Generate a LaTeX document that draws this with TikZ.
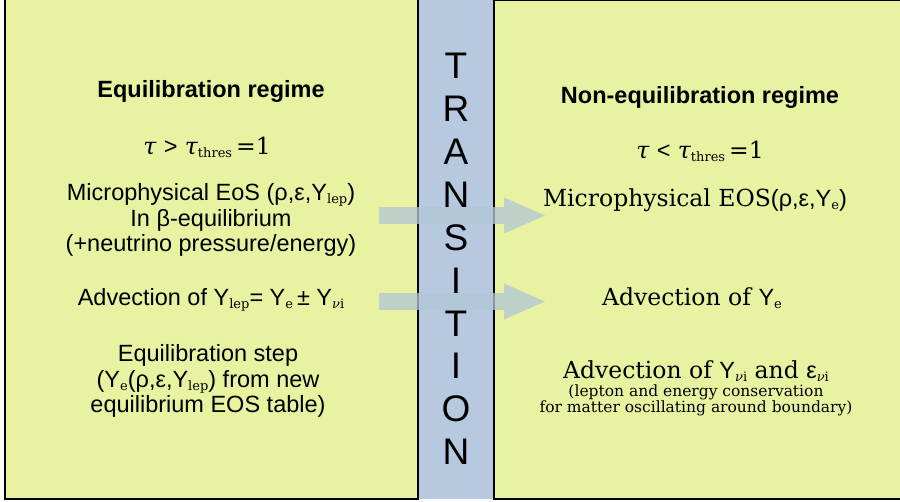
\documentclass[tikz,border=0pt]{standalone}
\usepackage{fontspec}
\setmainfont{Liberation Sans}
\newfontfamily\seriffont{DejaVu Serif}
\usetikzlibrary{arrows.meta, positioning}

\definecolor{regimeyellow}{RGB}{232,242,161}
\definecolor{bandblue}{RGB}{183,201,222}
\definecolor{flowblue}{RGB}{176,197,214}

\newcommand{\lowtxt}[1]{\raisebox{-0.25ex}{\seriffont\fontsize{13}{13}\selectfont #1}}
\newcommand{\nui}{{\itshape ν}i}

\tikzstyle{regime} = [rectangle, draw=black, line width=2.5pt, fill=regimeyellow]
\tikzstyle{band} = [rectangle, fill=bandblue]
\tikzstyle{sanstext} = [align=center, inner sep=0pt, font=\fontsize{23.5}{25.5}\selectfont]
\tikzstyle{seriftext} = [align=center, inner sep=0pt, font=\seriffont\fontsize{23.5}{25.5}\selectfont]
\tikzstyle{headline} = [align=center, inner sep=0pt, font=\bfseries\fontsize{23.5}{25.5}\selectfont]
\tikzstyle{smallnote} = [align=center, inner sep=0pt, font=\seriffont\fontsize{15.5}{16}\selectfont]
\tikzstyle{bigletters} = [align=center, inner sep=0pt, font=\fontsize{37}{42.9}\selectfont]
\tikzstyle{flow} = [line width=17pt, draw=flowblue, opacity=0.75, -{Triangle[length=41pt, width=36pt, line width=0pt, fill=flowblue]}]

\begin{document}
\begin{tikzpicture}[x=1pt, y=-1pt]

	\useasboundingbox (0,0) rectangle (900,501);

	% Boxes and transition band
	\node (band) [band, minimum width=76pt, minimum height=504pt] at (456,247) {};
	\node (eq_box) [regime, minimum width=413pt, minimum height=502pt] at (211.5,248) {};
	\node (neq_box) [regime, minimum width=416pt, minimum height=499pt] at (702,249.5) {};
	\node (transition) [bigletters] at (456,259) {T\\R\\A\\N\\S\\I\\T\\I\\O\\N};

	% Equilibration regime
	\node (eq_title) [headline] at (211,91) {Equilibration regime};
	\node (eq_tau) [seriftext] at (207,147) {{\itshape τ} {\rmfamily >} {\itshape τ}\lowtxt{thres}\,=1};
	\node (eq_eos) [sanstext] at (211,220) {Microphysical EoS (ρ,ε,Y\lowtxt{lep})\\In β-equilibrium\\(+neutrino pressure/energy)};
	\node (eq_adv) [sanstext] at (211,300) {Advection of Y\lowtxt{lep}= Y\lowtxt{e}\,± Y\lowtxt{\nui}};
	\node (eq_step) [sanstext] at (208,381) {Equilibration step\\(Y\lowtxt{e}(ρ,ε,Y\lowtxt{lep}) from new\\equilibrium EOS table)};

	% Non-equilibration regime
	\node (neq_title) [headline] at (700,97) {Non-equilibration regime};
	\node (neq_tau) [seriftext] at (700,151) {{\itshape τ} {\rmfamily <} {\itshape τ}\lowtxt{thres}\,=1};
	\node (neq_eos) [sanstext] at (695,200) {{\seriffont Microphysical EOS}(ρ,ε,Y\lowtxt{e})};
	\node (neq_adv) [sanstext] at (692,298) {{\seriffont Advection of }Y\lowtxt{e}};
	\node (neq_nu) [sanstext] at (696,371) {{\seriffont Advection of }Y\lowtxt{\nui}{\seriffont\ and }ε\lowtxt{\nui}};
	\node (neq_note) [smallnote, below=3pt of neq_nu] {(lepton and energy conservation\\for matter oscillating around boundary)};

	% Arrows across the transition
	\coordinate (eos_from) at (379,215.5);
	\coordinate (eos_to) at (545,215.5);
	\coordinate (adv_from) at (379,301.5);
	\coordinate (adv_to) at (545,301.5);
	\draw[flow] (eos_from) -- (eos_to);
	\draw[flow] (adv_from) -- (adv_to);

\end{tikzpicture}
\end{document}
